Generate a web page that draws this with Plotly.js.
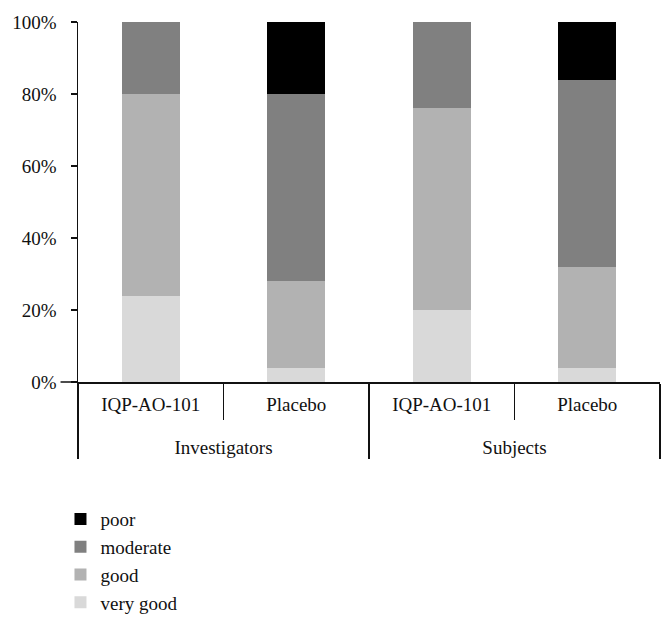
<!DOCTYPE html>
<html>
<head>
<meta charset="utf-8">
<script src="https://cdn.plot.ly/plotly-3.0.1.min.js"></script>
<style>html,body{margin:0;padding:0;background:#fff;}#chart{width:672px;height:630px;}</style>
</head>
<body>
<div id="chart"></div>
<script>
var groups = ["Investigators", "Investigators", "Subjects", "Subjects"];
var products = ["IQP-AO-101", "Placebo", "IQP-AO-101", "Placebo"];
var veryGood = [24, 4, 20, 4];
var good = [56, 24, 56, 28];
var moderate = [20, 52, 24, 52];
var poor = [0, 20, 0, 16];
var seriesNames = ["very good", "good", "moderate", "poor"];
var seriesColors = ["#d9d9d9", "#b2b2b2", "#808080", "#000000"];
var seriesValues = [veryGood, good, moderate, poor];

// outer group labels are pushed down one line to leave room for the inner labels
var groupLabels = groups.map(function (g) { return "<br>" + g; });

var traces = seriesValues.map(function (vals, i) {
  return {
    type: "bar",
    name: seriesNames[i],
    x: [groupLabels, products],
    y: vals,
    marker: { color: seriesColors[i], line: { width: 0 } },
    hoverinfo: "skip"
  };
});

var fontFam = "'Liberation Serif', 'Times New Roman', serif";
var layout = {
  width: 672,
  height: 630,
  barmode: "stack",
  bargap: 0.6,
  showlegend: true,
  paper_bgcolor: "#fff",
  plot_bgcolor: "#fff",
  margin: { l: 78, r: 12, t: 22, b: 248, autoexpand: false },
  font: { family: fontFam, size: 19, color: "#111" },
  xaxis: {
    type: "multicategory",
    range: [-0.5, 3.5],
    showline: true,
    linecolor: "#111",
    linewidth: 1.5,
    ticks: "outside",
    tickson: "boundaries",
    ticklen: 36,
    tickcolor: "#111",
    tickwidth: 1.2,
    ticklabelstandoff: 5,
    showdividers: true,
    dividercolor: "#111",
    dividerwidth: 1.2,
    showgrid: false,
    zeroline: false,
    tickfont: { family: fontFam, size: 19, color: "#111" }
  },
  yaxis: {
    range: [0, 100],
    tickvals: [0, 20, 40, 60, 80, 100],
    ticktext: ["0%", "20%", "40%", "60%", "80%", "100%"],
    showline: true,
    linecolor: "#111",
    linewidth: 1.5,
    ticks: "outside",
    ticklen: 6,
    tickcolor: "#111",
    tickwidth: 1.2,
    ticklabelstandoff: 10,
    showgrid: false,
    zeroline: false,
    tickfont: { family: fontFam, size: 19, color: "#111" }
  },
  shapes: [
    { type: "line", xref: "paper", yref: "paper", x0: -0.03, x1: 0, y0: 0, y1: 0,
      line: { color: "#111", width: 1.5 } }
  ],
  legend: {
    xref: "container",
    yref: "container",
    x: 0.09,
    xanchor: "left",
    y: 0.206,
    yanchor: "top",
    traceorder: "reversed",
    orientation: "v",
    font: { family: fontFam, size: 19, color: "#111" },
    bgcolor: "rgba(0,0,0,0)"
  }
};

Plotly.newPlot("chart", traces, layout, { displayModeBar: false, staticPlot: true });
</script>
</body>
</html>
